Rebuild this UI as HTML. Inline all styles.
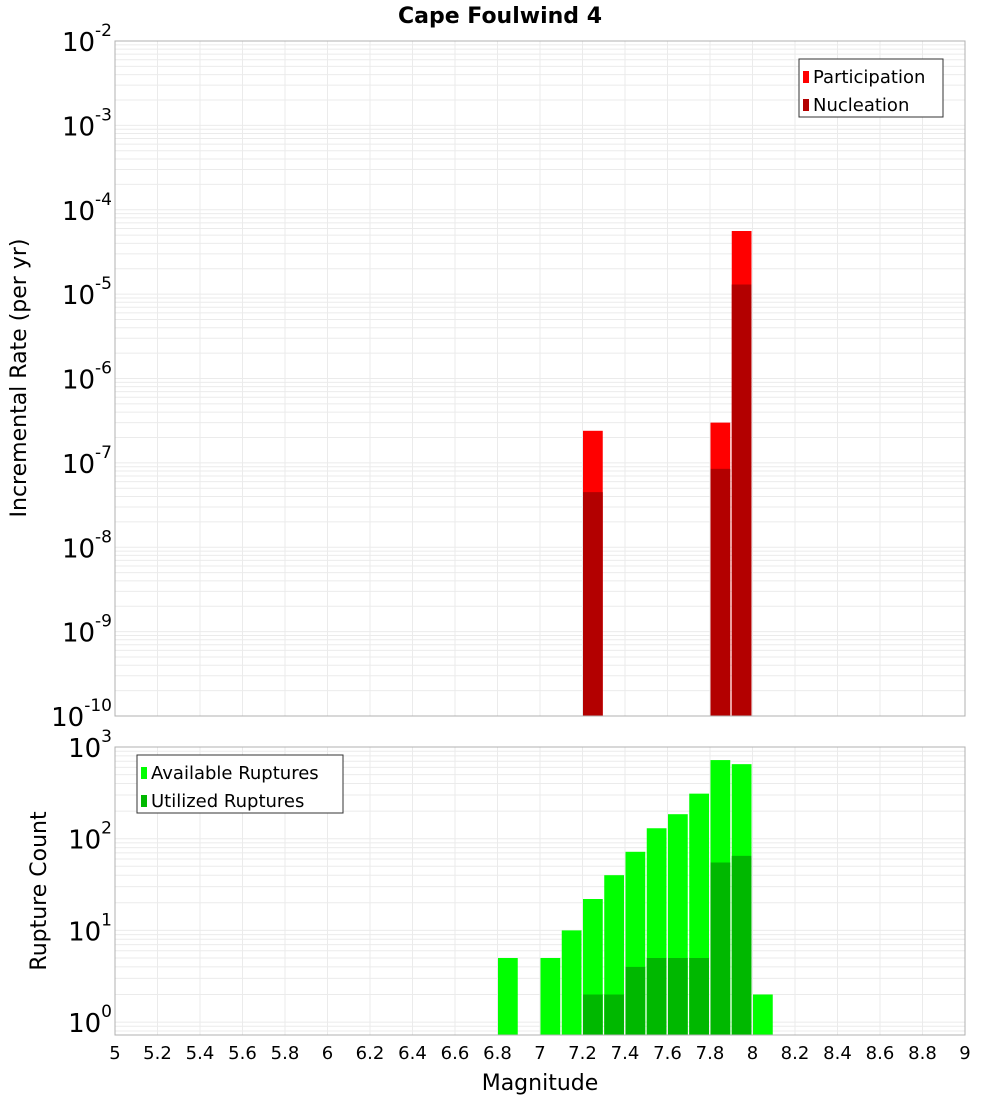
<!DOCTYPE html>
<html><head><meta charset="utf-8"><style>
body{margin:0;background:#fff;font-family:"DejaVu Sans","Liberation Sans",sans-serif}
</style></head><body>
<svg id="c" width="1000" height="1100" xmlns="http://www.w3.org/2000/svg" font-family="DejaVu Sans, Liberation Sans, sans-serif"></svg>
<script>
const mags=[5,5.2,5.4,5.6,5.8,6,6.2,6.4,6.6,6.8,7,7.2,7.4,7.6,7.8,8,8.2,8.4,8.6,8.8,9];
const rateBins=[7.2,7.8,7.9];
const participation=[2.4e-7,3e-7,5.6e-5];
const nucleation=[4.5e-8,8.5e-8,1.3e-5];
const countBins=[6.8,7.0,7.1,7.2,7.3,7.4,7.5,7.6,7.7,7.8,7.9,8.0];
const available=[5,5,10,22,40,72,130,185,310,720,650,2];
const utilized=[0,0,0,2,2,4,5,5,5,55,65,0];
const topExp=[-10,-9,-8,-7,-6,-5,-4,-3,-2];
const botExp=[0,1,2,3];

const svg=document.getElementById('c');const NS='http://www.w3.org/2000/svg';
function el(t,a,p){const e=document.createElementNS(NS,t);for(const k in a)e.setAttribute(k,a[k]);(p||svg).appendChild(e);return e;}
const X0=115,X1=965;
const xs=m=>X0+(m-5)/4*(X1-X0);
const T0=41,T1=716;const yT=v=>T1-(Math.log10(v)+10)/8*(T1-T0);
const B0=747,B1=1035,BD=91.7;const yB=v=>B0+(3-Math.log10(v))*BD;

function grid(y0,y1,ymap,eLo,eHi,name){
  const g=el('g',{});
  for(let e=eLo;e<=eHi;e++)for(let k=1;k<10;k++){const y=ymap(k*Math.pow(10,e));if(y>=y0-0.5&&y<=y1+0.5)el('line',{x1:X0,x2:X1,y1:y,y2:y,stroke:'#ebebeb','stroke-width':1},g);}
  mags.forEach(m=>el('line',{x1:xs(m),x2:xs(m),y1:y0,y2:y1,stroke:'#ebebeb','stroke-width':1},g));
}
grid(T0,T1,yT,-10,-3,'top-grid');grid(B0,B1,yB,-1,2,'bottom-grid');

function bar(m,v,base,ymap,fill,name){const x=xs(m)+0.5,w=xs(m+0.1)-xs(m)-1.5,y=ymap(v);
  const r=el('rect',{x:x,y:y,width:w,height:base-y,fill:fill});}
rateBins.forEach((m,i)=>{bar(m,participation[i],T1,yT,'#ff0000','participation-bar');bar(m,nucleation[i],T1,yT,'#b30000','nucleation-bar');});
countBins.forEach((m,i)=>{if(available[i]>0)bar(m,available[i],B1,yB,'#00ff00','available-bar');if(utilized[i]>0)bar(m,utilized[i],B1,yB,'#00b800','utilized-bar');});

const f1=el('rect',{x:X0,y:T0,width:X1-X0,height:T1-T0,fill:'none',stroke:'#b0b0b0'});
const f2=el('rect',{x:X0,y:B0,width:X1-X0,height:B1-B0,fill:'none',stroke:'#b0b0b0'});

function ylab(y,e,name){const t=el('text',{x:112,y:y+10,'text-anchor':'end','font-size':26,fill:'#000'});
  t.textContent='10';const s=el('tspan',{dy:-15,'font-size':17},t);s.textContent=String(e);}
topExp.forEach(e=>ylab(yT(Math.pow(10,e)),e,'top-y-tick'));
botExp.forEach(e=>ylab(yB(Math.pow(10,e)),e,'bottom-y-tick'));
mags.forEach(m=>{const t=el('text',{x:xs(m),y:1059,'text-anchor':'middle','font-size':18});t.textContent=String(m);});

function txt(s,a,name){const t=el('text',a);t.textContent=s;return t;}
txt('Cape Foulwind 4',{x:500,y:23,'text-anchor':'middle','font-size':22,'font-weight':'bold'},'chart-title');
txt('Magnitude',{x:540,y:1090,'text-anchor':'middle','font-size':22},'x-axis-title');
txt('Incremental Rate (per yr)',{x:0,y:0,'text-anchor':'middle','font-size':22,transform:'translate(26,378) rotate(-90)'},'top-y-axis-title');
txt('Rupture Count',{x:0,y:0,'text-anchor':'middle','font-size':22,transform:'translate(46,891) rotate(-90)'},'bottom-y-axis-title');

function legend(x,y,w,items,name){const g=el('g',{});
  el('rect',{x:x,y:y,width:w,height:58,fill:'#fff',stroke:'#333'},g);
  items.forEach((it,i)=>{el('rect',{x:x+4,y:y+12+i*28,width:6,height:12,fill:it[1]},g);
    const t=el('text',{x:x+14,y:y+24+i*28,'font-size':18},g);t.textContent=it[0];});}
legend(799,59,144,[['Participation','#ff0000'],['Nucleation','#b30000']],'top-legend');
legend(137,755,206,[['Available Ruptures','#00ff00'],['Utilized Ruptures','#00b800']],'bottom-legend');
</script>
</body></html>
